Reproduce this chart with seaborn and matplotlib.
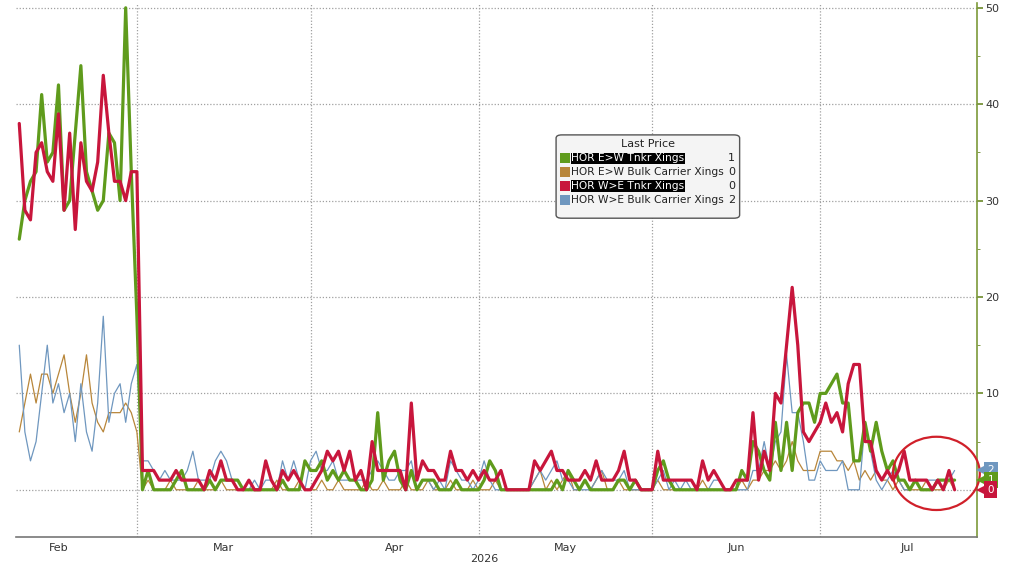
import pandas as pd
import numpy as np
import seaborn as sns
import matplotlib
matplotlib.use("Agg")
import matplotlib.pyplot as plt
import matplotlib.dates as mdates
from matplotlib.patches import Ellipse, FancyBboxPatch, Rectangle
from matplotlib.transforms import blended_transform_factory

# daily crossings, Feb 8 .. Jul 25 2026, split by month
green_feb = [26, 30, 32, 33, 41, 34, 35, 42, 29, 30, 37, 44, 33, 31, 29, 30, 37, 36, 30, 50, 33]
green_mar = [18, 0, 2, 0, 0, 0, 0, 1, 2, 0, 0, 0, 0, 1, 0, 1, 1, 1, 1, 0, 0, 0, 0, 0, 0, 0, 1, 0, 0, 0, 3]
green_apr = [2, 2, 3, 1, 2, 1, 2, 1, 1, 0, 0, 1, 8, 1, 3, 4, 1, 0, 2, 0, 1, 1, 1, 0, 0, 0, 1, 0, 0, 0]
green_may = [0, 1, 3, 2, 0, 0, 0, 0, 0, 0, 0, 0, 0, 0, 1, 0, 2, 1, 0, 1, 0, 0, 0, 0, 0, 1, 1, 0, 1, 0, 0]
green_jun = [0, 2, 3, 1, 0, 0, 0, 0, 0, 0, 0, 0, 0, 0, 0, 0, 2, 1, 5, 4, 2, 1, 7, 2, 7, 2, 8, 9, 9, 7]
green_jul = [10, 10, 11, 12, 9, 9, 3, 3, 7, 4, 7, 4, 2, 3, 1, 1, 0, 1, 0, 0, 0, 1, 1, 1, 1]

bulk_ew_feb = [6, 9, 12, 9, 12, 12, 10, 12, 14, 10, 7, 10, 14, 9, 7, 6, 8, 8, 8, 9, 8]
bulk_ew_mar = [6, 0, 1, 0, 0, 0, 1, 0, 0, 0, 0, 1, 0, 0, 0, 1, 0, 0, 0, 0, 1, 0, 0, 0, 0, 1, 0, 0, 0, 1, 0]
bulk_ew_apr = [0, 0, 1, 0, 0, 1, 0, 0, 0, 0, 1, 0, 0, 1, 0, 0, 0, 1, 0, 0, 0, 1, 0, 0, 0, 1, 0, 0, 0, 1]
bulk_ew_may = [0, 0, 0, 1, 0, 0, 0, 0, 0, 0, 1, 2, 0, 1, 0, 1, 2, 0, 0, 1, 0, 1, 2, 0, 0, 1, 0, 0, 0, 0, 0]
bulk_ew_jun = [0, 1, 0, 0, 0, 0, 0, 0, 0, 1, 0, 0, 0, 0, 0, 0, 1, 0, 1, 1, 2, 2, 3, 2, 3, 5, 3, 2, 2, 2]
bulk_ew_jul = [4, 4, 4, 3, 3, 2, 3, 1, 2, 1, 2, 1, 1, 0, 1, 0, 0, 0, 0, 1, 0, 0, 0, 1, 0]

red_feb = [38, 29, 28, 35, 36, 33, 32, 39, 29, 37, 27, 36, 32, 31, 34, 43, 37, 32, 32, 30, 33]
red_mar = [33, 2, 2, 2, 1, 1, 1, 2, 1, 1, 1, 1, 0, 2, 1, 3, 1, 1, 0, 0, 1, 0, 0, 3, 1, 0, 2, 1, 2, 1, 0]
red_apr = [0, 1, 2, 4, 3, 4, 2, 4, 1, 2, 0, 5, 2, 2, 2, 2, 2, 0, 9, 1, 3, 2, 2, 1, 1, 4, 2, 2, 1, 2]
red_may = [1, 2, 1, 1, 2, 0, 0, 0, 0, 0, 3, 2, 3, 4, 2, 2, 1, 1, 1, 2, 1, 3, 1, 1, 1, 2, 4, 1, 1, 0, 0]
red_jun = [0, 4, 1, 1, 1, 1, 1, 1, 0, 3, 1, 2, 1, 0, 0, 1, 1, 1, 8, 1, 4, 2, 10, 9, 15, 21, 15, 6, 5, 6]
red_jul = [7, 9, 7, 8, 6, 11, 13, 13, 5, 5, 2, 1, 2, 1, 2, 4, 1, 1, 1, 1, 0, 1, 0, 2, 0]

bulk_we_feb = [15, 6, 3, 5, 10, 15, 9, 11, 8, 10, 5, 11, 6, 4, 9, 18, 7, 10, 11, 7, 11]
bulk_we_mar = [13, 3, 3, 2, 1, 2, 1, 1, 1, 2, 4, 1, 1, 1, 3, 4, 3, 1, 1, 0, 0, 1, 0, 1, 1, 0, 3, 1, 3, 1, 0]
bulk_we_apr = [3, 4, 2, 2, 3, 1, 1, 1, 1, 1, 1, 2, 3, 2, 1, 1, 2, 2, 3, 0, 1, 1, 0, 1, 0, 3, 2, 1, 1, 0]
bulk_we_may = [1, 3, 1, 0, 0, 0, 0, 0, 0, 0, 1, 2, 1, 2, 3, 1, 1, 0, 0, 0, 0, 1, 2, 1, 1, 1, 2, 0, 0, 0, 0]
bulk_we_jun = [0, 1, 2, 0, 1, 0, 1, 0, 0, 0, 0, 1, 1, 0, 0, 0, 0, 0, 2, 2, 5, 2, 5, 6, 14, 8, 8, 5, 1, 1]
bulk_we_jul = [3, 2, 2, 2, 3, 0, 0, 0, 7, 4, 1, 0, 1, 2, 1, 0, 0, 1, 1, 1, 1, 1, 1, 1, 2]

series_names = ["HOR E>W Tnkr Xings", "HOR E>W Bulk Carrier Xings",
                "HOR W>E Tnkr Xings", "HOR W>E Bulk Carrier Xings"]
last_values = [1, 0, 0, 2]
month_names = ["Feb", "Mar", "Apr", "May", "Jun", "Jul"]

dates = pd.date_range("2026-02-08", "2026-07-25", freq="D")
df = pd.DataFrame({
    "date": dates,
    series_names[0]: green_feb + green_mar + green_apr + green_may + green_jun + green_jul,
    series_names[1]: bulk_ew_feb + bulk_ew_mar + bulk_ew_apr + bulk_ew_may + bulk_ew_jun + bulk_ew_jul,
    series_names[2]: red_feb + red_mar + red_apr + red_may + red_jun + red_jul,
    series_names[3]: bulk_we_feb + bulk_we_mar + bulk_we_apr + bulk_we_may + bulk_we_jun + bulk_we_jul,
})

colors = {series_names[0]: "#5f9b1c", series_names[1]: "#b8863a",
          series_names[2]: "#c8163c", series_names[3]: "#6f97bf"}
widths = {series_names[0]: 2.3, series_names[1]: 0.9,
          series_names[2]: 2.3, series_names[3]: 0.9}
draw_order = [series_names[1], series_names[3], series_names[0], series_names[2]]

sns.set_style("white")
plt.rcParams["font.family"] = ["DejaVu Sans"]

fig = plt.figure(figsize=(10.24, 5.74), dpi=100)
ax = fig.add_axes([16 / 1024, 37 / 574, 961 / 1024, 534 / 574])

for name in draw_order:
    sns.lineplot(data=df, x="date", y=name, ax=ax, color=colors[name],
                 linewidth=widths[name], legend=False)

ax.set_xlim(pd.Timestamp("2026-02-07 10:00"), pd.Timestamp("2026-07-29"))
ax.set_ylim(-4.9, 50.5)
ax.set_xlabel("")
ax.set_ylabel("")

# y axis on the right
ax.yaxis.tick_right()
ax.set_yticks([0, 10, 20, 30, 40, 50])
ax.set_yticklabels(["", "10", "20", "30", "40", "50"])
ax.set_yticks([5, 15, 25, 35, 45], minor=True)
ax.tick_params(axis="y", which="major", direction="out", length=4, width=1.2,
               color="#6c8a2a", labelsize=8, labelcolor="#333333", pad=2)
ax.tick_params(axis="y", which="minor", direction="out", length=2, color="#6c8a2a")
for s in ["left", "top"]:
    ax.spines[s].set_visible(False)
ax.spines["right"].set_color("#7d9a3a")
ax.spines["right"].set_linewidth(1.2)
ax.spines["bottom"].set_color("#777777")
ax.spines["bottom"].set_linewidth(1.2)

# month boundaries as major ticks, month names centred between them
bounds = pd.date_range("2026-02-01", "2026-08-01", freq="MS")
mids = [bounds[i] + (bounds[i + 1] - bounds[i]) / 2 for i in range(len(month_names))]
ax.set_xticks(bounds[1:-1])
ax.set_xticks(mids, minor=True)
ax.set_xticklabels([], minor=False)
ax.set_xticklabels(month_names, minor=True)
ax.tick_params(axis="x", which="major", direction="out", length=3, color="#777777")
ax.tick_params(axis="x", which="minor", length=0, labelsize=8, labelcolor="#333333", pad=4)

ax.grid(True, which="major", axis="both", linestyle=(0, (1, 1.5)), color="#a0a0a0", linewidth=0.9)
ax.set_axisbelow(True)

ax.text(pd.Timestamp("2026-05-02"), -0.031, "2026", transform=blended_transform_factory(ax.transData, ax.transAxes),
        ha="center", va="top", fontsize=8, color="#333333")

# last value tags on the right (stacked like the terminal does)
tag_tf = blended_transform_factory(ax.transAxes, ax.transData)
for name, val in [(series_names[3], 2), (series_names[0], 1), (series_names[2], 0)]:
    ax.plot([1.004], [val], marker="<", markersize=7, color=colors[name], markeredgewidth=0,
            transform=tag_tf, clip_on=False, zorder=10)
    ax.text(1.011, val, str(val), transform=tag_tf, ha="left", va="center", fontsize=7.5, color="white",
            bbox=dict(boxstyle="square,pad=0.32", facecolor=colors[name], edgecolor="none"),
            clip_on=False, zorder=10)

# red circle highlighting the latest readings
ax.add_patch(Ellipse((mdates.date2num(pd.Timestamp("2026-07-21 18:00")), 1.7), width=15.5, height=7.6,
                     fill=False, edgecolor="#d0202a", linewidth=1.6, zorder=9, clip_on=False))

# legend box
ax.add_patch(FancyBboxPatch((0.562, 0.597), 0.191, 0.156, transform=ax.transAxes,
                            boxstyle="round,pad=0,rounding_size=0.006", facecolor="#f4f4f4",
                            edgecolor="#555555", linewidth=1.0, zorder=11))
ax.text(0.658, 0.736, "Last Price", transform=ax.transAxes, ha="center", va="center",
        fontsize=8, color="#222222", zorder=12)
for i, (name, val) in enumerate(zip(series_names, last_values)):
    yy = 0.709 - i * 0.026
    ax.add_patch(Rectangle((0.5665, yy - 0.009), 0.0095, 0.019, transform=ax.transAxes,
                           facecolor=colors[name], edgecolor="none", zorder=12))
    dark = "Tnkr" in name
    ax.text(0.578, yy, name, transform=ax.transAxes, ha="left", va="center", fontsize=7.7,
            color="white" if dark else "#222222", zorder=12,
            bbox=dict(facecolor="black", edgecolor="none", pad=0.6) if dark else None)
    ax.text(0.7485, yy, str(val), transform=ax.transAxes, ha="right", va="center",
            fontsize=8, color="#222222", zorder=12)

fig.savefig("out.png", dpi=100)
